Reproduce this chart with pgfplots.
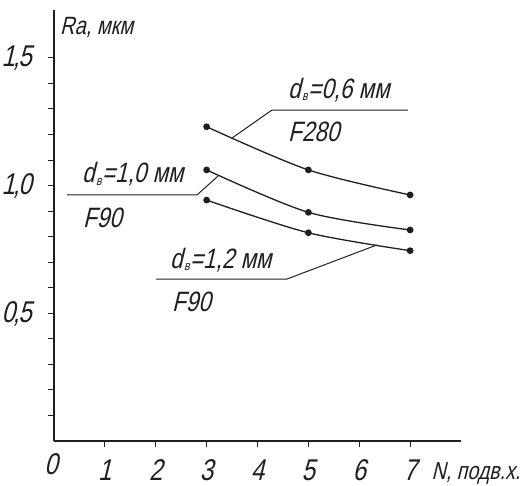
\documentclass[border=0pt]{standalone}
\usepackage{pgfplots}
\pgfplotsset{compat=1.18}
\usepackage{fontspec}
\setmainfont{Liberation Sans}[FakeStretch=0.8, FakeSlant=0.24]
\newcommand{\db}{d\kern0.05em\raisebox{-0.15ex}{\fontsize{13}{13}\selectfont в}\kern0.02em}
\newcommand{\ann}{\fontsize{28}{28}\selectfont}
\newcommand{\tck}{\fontsize{30}{30}\selectfont}
\definecolor{ink}{gray}{0.12}
\begin{document}
\begin{tikzpicture}
\useasboundingbox (-54pt,-45pt) rectangle (470pt,441pt);
\begin{axis}[
  at={(0pt,0pt)}, anchor=origin,
  scale only axis, width=407pt, height=431pt,
  xmin=0, xmax=8, ymin=0, ymax=1.687,
  axis x line=bottom, axis y line=left,
  axis line style={-, line width=1.2pt, ink},
  x axis line style={-}, y axis line style={-},
  clip=false,
  xtick={1,2,3,4,5,6,7}, xticklabels={1,2,3,4,5,6,7},
  ytick={0.5,1,1.5}, yticklabels={{0\kern-0.07em,\kern-0.04em5},{1\kern-0.07em,\kern-0.04em0},{1\kern-0.07em,\kern-0.04em5}},
  minor ytick={0.1,0.2,0.3,0.4,0.6,0.7,0.8,0.9,1.1,1.2,1.3,1.4},
  tick align=outside, major tick length=6pt, minor tick length=6pt,
  tick style={ink, line width=0.9pt},
  xticklabel style={font=\tck, text=ink, anchor=base, inner sep=0pt, yshift=-33pt},
  yticklabel style={font=\tck, text=ink, anchor=base east, inner sep=0pt, xshift=-16pt, yshift=-9pt},
]
% d = 0.6 mm, F280
\addplot[ink, line width=1.3pt, smooth, mark=*, mark size=2.7pt] coordinates {(3,1.230) (5,1.061) (7,0.963)};
% d = 1.0 mm, F90
\addplot[ink, line width=1.3pt, smooth, mark=*, mark size=2.7pt] coordinates {(3,1.061) (5,0.895) (7,0.826)};
% d = 1.2 mm, F90
\addplot[ink, line width=1.3pt, smooth, mark=*, mark size=2.7pt] coordinates {(3,0.943) (5,0.815) (7,0.745)};

\node[anchor=base, inner sep=0pt, font=\tck, text=ink] at (axis cs:-0.06,-0.1292) {0};
\node[anchor=base west, inner sep=0pt, font=\fontsize{25}{25}\selectfont, text=ink] at (axis cs:0.118,1.593) {Ra, мкм};
\node[anchor=base east, inner sep=0pt, font=\fontsize{24.5}{24.5}\selectfont, text=ink] at (axis cs:9.17,-0.150) {N, подв.х.};

% labels
\draw[ink, line width=1pt] (axis cs:6.958,1.2955) -- (axis cs:4.285,1.2955) -- (axis cs:3.493,1.185);
\node[anchor=base west, inner sep=0pt, font=\ann, text=ink] at (axis cs:4.60,1.342) {\db=0,6 мм};
\node[anchor=base west, inner sep=0pt, font=\ann, text=ink] at (axis cs:4.60,1.171) {F280};

\draw[ink, line width=1pt] (axis cs:0.2555,0.963) -- (axis cs:2.811,0.963) -- (axis cs:3.224,1.037);
\node[anchor=base west, inner sep=0pt, font=\ann, text=ink] at (axis cs:0.55,1.010) {\db=1,0 мм};
\node[anchor=base west, inner sep=0pt, font=\ann, text=ink] at (axis cs:0.57,0.8376) {F90};

\draw[ink, line width=1pt] (axis cs:2.005,0.634) -- (axis cs:4.580,0.634) -- (axis cs:6.343,0.767);
\node[anchor=base west, inner sep=0pt, font=\ann, text=ink] at (axis cs:2.28,0.677) {\db=1,2 мм};
\node[anchor=base west, inner sep=0pt, font=\ann, text=ink] at (axis cs:2.319,0.505) {F90};
\end{axis}
\end{tikzpicture}
\end{document}
